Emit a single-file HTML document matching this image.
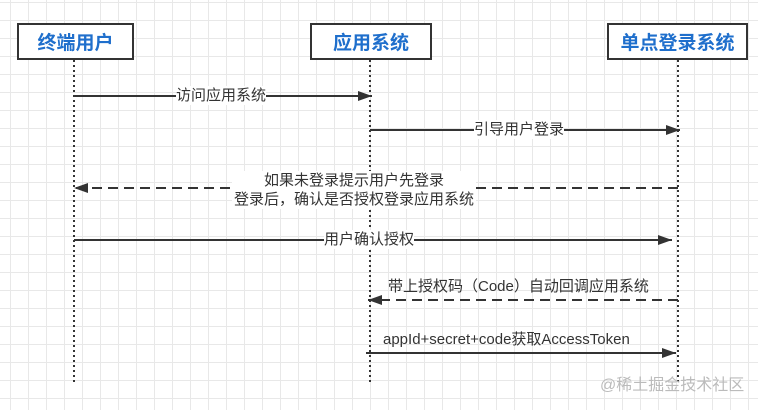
<!DOCTYPE html><html><head><meta charset="utf-8"><style>
body{margin:0;width:758px;height:410px;overflow:hidden;background:#fff;
background-image:linear-gradient(#e8e8e8 1px,transparent 1px),linear-gradient(90deg,#e8e8e8 1px,transparent 1px);background-size:18px 18px;background-position:10px 2px;font-family:"Liberation Sans","Noto Sans CJK SC",sans-serif}
.b{position:absolute;top:23px;height:33px;border:2px solid #333;background:#fff;color:#1f6fcc;font-weight:bold;font-size:19px;display:flex;align-items:center;justify-content:center}
.t{position:absolute;font-size:15px;color:#333;background:#fff;white-space:nowrap;line-height:19px}
</style></head><body>
<svg width="758" height="410" style="position:absolute;left:0;top:0">
<defs><marker id="a" markerWidth="14" markerHeight="10" refX="14" refY="5" orient="auto" markerUnits="userSpaceOnUse"><path d="M0,0L14,5L0,10z" fill="#333"/></marker></defs>
<g stroke="#333" stroke-width="2" stroke-dasharray="2,3"><line x1="74" y1="60" x2="74" y2="385"/><line x1="370" y1="60" x2="370" y2="385"/><line x1="678" y1="60" x2="678" y2="385"/></g>
<g stroke="#333" stroke-width="2" fill="none" marker-end="url(#a)">
<line x1="74" y1="96" x2="372" y2="96"/>
<line x1="370" y1="130" x2="680" y2="130"/>
<line x1="678" y1="188" x2="74" y2="188" stroke-dasharray="10,6"/>
<line x1="74" y1="240" x2="672" y2="240"/>
<line x1="678" y1="300" x2="368" y2="300" stroke-dasharray="10,6"/>
<line x1="366" y1="353" x2="676" y2="353"/>
</g></svg>
<div class="b" style="left:17px;width:113px">终端用户</div>
<div class="b" style="left:310px;width:118px">应用系统</div>
<div class="b" style="left:607px;width:137px">单点登录系统</div>
<div class="t" style="left:176px;top:86px">访问应用系统</div>
<div class="t" style="left:474px;top:120px">引导用户登录</div>
<div class="t" style="left:232px;top:171px;text-align:center;padding:0 2px">如果未登录提示用户先登录<br>登录后，确认是否授权登录应用系统</div>
<div class="t" style="left:324px;top:230px">用户确认授权</div>
<div class="t" style="left:388px;top:277px;background:none">带上授权码（Code）自动回调应用系统</div>
<div class="t" style="left:383px;top:330px;background:none">appId+secret+code获取AccessToken</div>
<div class="t" style="left:600px;top:376px;background:none;color:#bbb;font-size:16px">@稀土掘金技术社区</div>
</body></html>
